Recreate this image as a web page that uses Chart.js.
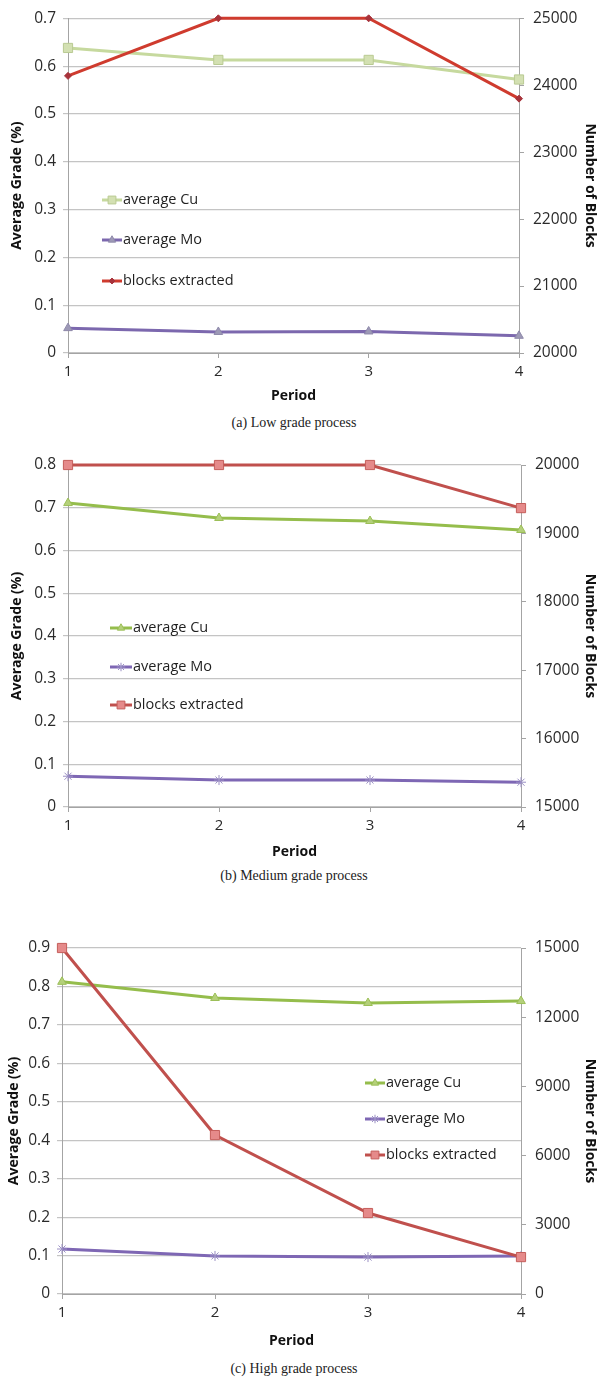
<!DOCTYPE html>
<html>
<head>
<meta charset="utf-8">
<script src="https://cdn.jsdelivr.net/npm/chart.js@4.4.0/dist/chart.umd.min.js"></script>
<style>
  body { margin:0; background:#fff; }
  #wrap { position:relative; width:600px; height:1381px; overflow:hidden; }
  canvas { position:absolute; left:0; }
  .cap { position:absolute; left:0; width:588px; text-align:center; font-family:"Liberation Serif","DejaVu Serif",serif; font-size:14px; line-height:16px; color:#222; }
</style>
</head>
<body>
<div id="wrap">
  <canvas id="ca" width="600" height="410" style="top:0px"></canvas>
  <div class="cap" style="top:415px">(a) Low grade process</div>
  <canvas id="cb" width="600" height="426" style="top:440px"></canvas>
  <div class="cap" style="top:868px">(b) Medium grade process</div>
  <canvas id="cc" width="600" height="430" style="top:925px"></canvas>
  <div class="cap" style="top:1361px">(c) High grade process</div>
</div>
<script>
// ---- data ----
const periods = ['1', '2', '3', '4'];
const seriesNames = ['average Cu', 'average Mo', 'blocks extracted'];

const lowCu = [0.638, 0.613, 0.613, 0.572];
const lowMo = [0.052, 0.044, 0.045, 0.036];
const lowBlocks = [24140, 25000, 25000, 23800];
const lowGradeTicks = [0, 0.1, 0.2, 0.3, 0.4, 0.5, 0.6, 0.7];
const lowBlockTicks = [20000, 21000, 22000, 23000, 24000, 25000];

const medCu = [0.711, 0.676, 0.669, 0.648];
const medMo = [0.072, 0.063, 0.063, 0.058];
const medBlocks = [20000, 20000, 20000, 19370];
const medGradeTicks = [0, 0.1, 0.2, 0.3, 0.4, 0.5, 0.6, 0.7, 0.8];
const medBlockTicks = [15000, 16000, 17000, 18000, 19000, 20000];

const highCu = [0.812, 0.770, 0.757, 0.762];
const highMo = [0.117, 0.099, 0.096, 0.099];
const highBlocks = [15000, 6890, 3510, 1600];
const highGradeTicks = [0, 0.1, 0.2, 0.3, 0.4, 0.5, 0.6, 0.7, 0.8, 0.9];
const highBlockTicks = [0, 3000, 6000, 9000, 12000, 15000];

// ---- styling ----
Chart.defaults.font.family = "'Open Sans', 'DejaVu Sans', sans-serif";
Chart.defaults.color = '#2a2a2a';

const inlineLegend = {
  id: 'inlineLegend',
  afterDatasetsDraw(chart, args, opts) {
    const ctx = chart.ctx;
    ctx.save();
    chart.data.datasets.forEach((ds, i) => {
      const y = opts.ys[i], x0 = opts.x, len = opts.len;
      ctx.strokeStyle = ds.borderColor;
      ctx.lineWidth = ds.borderWidth;
      ctx.beginPath(); ctx.moveTo(x0, y); ctx.lineTo(x0 + len, y); ctx.stroke();
      ctx.fillStyle = ds.pointBackgroundColor;
      ctx.strokeStyle = ds.pointBorderColor;
      ctx.lineWidth = 1;
      Chart.helpers.drawPoint(ctx, {pointStyle: ds.pointStyle, radius: ds.pointRadius * 0.85, rotation: 0, borderWidth: 1}, x0 + len / 2, y);
      ctx.fillStyle = '#1f1f1f';
      ctx.font = "14.5px 'Open Sans', sans-serif";
      ctx.textBaseline = 'middle';
      ctx.textAlign = 'left';
      ctx.fillText(ds.label, x0 + len + 1, y);
    });
    ctx.restore();
  }
};

function ds(label, data, axis, line, fill, border, style, radius, order) {
  return {
    label, data, yAxisID: axis,
    borderColor: line, borderWidth: 3,
    pointBackgroundColor: fill, pointBorderColor: border, pointBorderWidth: 1,
    pointStyle: style, pointRadius: radius, pointHoverRadius: radius,
    tension: 0, clip: false, order
  };
}

function makeChart(id, cfg) {
  const canvas = document.getElementById(id);
  const H = canvas.height;
  const grid = '#c4c4c4', axisCol = '#a4a4a4';
  return new Chart(canvas, {
    type: 'line',
    data: { labels: periods, datasets: cfg.datasets },
    plugins: [inlineLegend],
    options: {
      responsive: false, animation: false, devicePixelRatio: 1,
      layout: { padding: { top: cfg.top, left: 0, right: 0, bottom: 0 } },
      plugins: { legend: { display: false }, tooltip: { enabled: false },
        inlineLegend: cfg.legend },
      scales: {
        x: {
          type: 'category', offset: false,
          grid: { drawOnChartArea: false, tickLength: 5, color: axisCol },
          border: { color: axisCol },
          ticks: { padding: 5, font: { size: 15 }, color: '#2a2a2a' },
          title: { display: true, text: 'Period', font: { size: 14, weight: 'bold' }, color: '#111', padding: { top: 0, bottom: cfg.titleBottom } },
          afterFit: s => { s.height = H - cfg.bottom; }
        },
        y: {
          position: 'left',
          min: cfg.gradeTicks[0], max: cfg.gradeTicks[cfg.gradeTicks.length - 1],
          afterBuildTicks: s => { s.ticks = cfg.gradeTicks.map(v => ({ value: v })); },
          grid: { color: grid, tickLength: 5, lineWidth: 1.2 },
          border: { color: axisCol },
          ticks: { padding: 7, font: { size: 15.5 }, color: '#2a2a2a', callback: v => String(v) },
          title: { display: true, text: 'Average Grade (%)', font: { size: 14, weight: 'bold' }, color: '#111', padding: { top: cfg.leftTitlePad, bottom: 0 } },
          afterFit: s => { s.width = cfg.left; }
        },
        y1: {
          position: 'right',
          min: cfg.blockTicks[0], max: cfg.blockTicks[cfg.blockTicks.length - 1],
          afterBuildTicks: s => { s.ticks = cfg.blockTicks.map(v => ({ value: v })); },
          grid: { drawOnChartArea: false, tickLength: 5, color: axisCol },
          border: { color: axisCol },
          ticks: { padding: 9, font: { size: 15.5 }, color: '#2a2a2a', callback: v => String(v) },
          title: { display: true, text: 'Number of Blocks', font: { size: 14, weight: 'bold' }, color: '#111', padding: { top: 2, bottom: 0 } },
          afterFit: s => { s.width = 600 - cfg.right; }
        }
      }
    }
  });
}

makeChart('ca', {
  top: 15, bottom: 353, left: 68, right: 519, titleBottom: 6, leftTitlePad: 9,
  gradeTicks: lowGradeTicks, blockTicks: lowBlockTicks,
  legend: { x: 102, len: 20, ys: [200, 240, 281] },
  datasets: [
    ds(seriesNames[0], lowCu, 'y', '#c6d99e', '#d3e0b2', '#b9ca92', 'rect', 6.5, 3),
    ds(seriesNames[1], lowMo, 'y', '#7c68ae', '#9d99b6', '#8e89aa', 'triangle', 5, 2),
    ds(seriesNames[2], lowBlocks, 'y1', '#cf3b2e', '#a8333b', '#a8333b', 'rectRot', 3.5, 1)
  ]
});

makeChart('cb', {
  top: 25, bottom: 367, left: 68, right: 521, titleBottom: 6, leftTitlePad: 9,
  gradeTicks: medGradeTicks, blockTicks: medBlockTicks,
  legend: { x: 110, len: 22, ys: [188, 227, 265] },
  datasets: [
    ds(seriesNames[0], medCu, 'y', '#95bd4c', '#b4d07a', '#9cbf58', 'triangle', 5, 3),
    ds(seriesNames[1], medMo, 'y', '#7e67b4', '#a197c8', '#9a8fc4', 'star', 5, 2),
    ds(seriesNames[2], medBlocks, 'y1', '#c0504d', '#e58a8a', '#c55e5b', 'rect', 6.5, 1)
  ]
});

makeChart('cc', {
  top: 23, bottom: 369, left: 62, right: 521, titleBottom: 6, leftTitlePad: 6,
  gradeTicks: highGradeTicks, blockTicks: highBlockTicks,
  legend: { x: 365, len: 20, ys: [158, 194, 230] },
  datasets: [
    ds(seriesNames[0], highCu, 'y', '#95bd4c', '#b4d07a', '#9cbf58', 'triangle', 5, 3),
    ds(seriesNames[1], highMo, 'y', '#7e67b4', '#a197c8', '#9a8fc4', 'star', 5, 2),
    ds(seriesNames[2], highBlocks, 'y1', '#c0504d', '#e58a8a', '#c55e5b', 'rect', 6.5, 1)
  ]
});
</script>
</body>
</html>
